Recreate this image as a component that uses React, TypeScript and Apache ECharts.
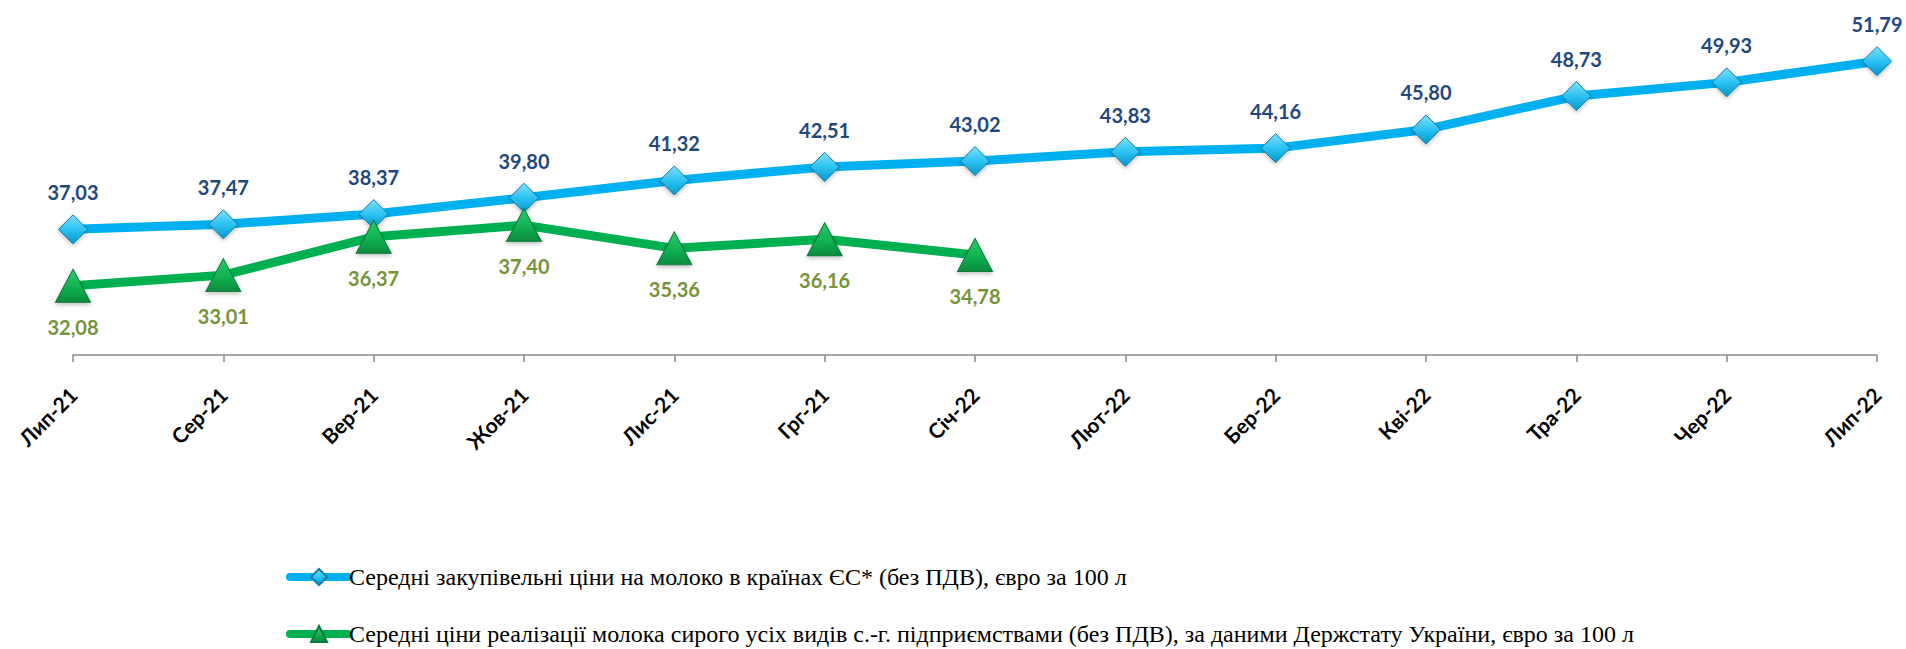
import React, { useEffect, useRef } from "react";
import * as echarts from "echarts";

const categories = ["Лип-21", "Сер-21", "Вер-21", "Жов-21", "Лис-21", "Грг-21", "Січ-22", "Лют-22", "Бер-22", "Кві-22", "Тра-22", "Чер-22", "Лип-22"];
const euPrices = [37.03, 37.47, 38.37, 39.8, 41.32, 42.51, 43.02, 43.83, 44.16, 45.8, 48.73, 49.93, 51.79];
const uaPrices = [32.08, 33.01, 36.37, 37.4, 35.36, 36.16, 34.78, null, null, null, null, null, null];
const euName = "Середні закупівельні ціни на молоко в країнах ЄС* (без ПДВ), євро за 100 л";
const uaName = "Середні ціни реалізації молока сирого усіх видів с.-г. підприємствами (без ПДВ), за даними Держстату України, євро за 100 л";

const fmt = (p: any) => (typeof p.value === "number" ? p.value.toFixed(2).replace(".", ",") : "");

export default function App() {
  const ref = useRef<HTMLDivElement>(null);
  useEffect(() => {
    if (!ref.current) return;
    const chart = echarts.init(ref.current, null, { renderer: "svg" });
    const blueGrad = new echarts.graphic.LinearGradient(0, 0, 0, 1, [
      { offset: 0, color: "#7FE0FB" },
      { offset: 0.5, color: "#2CC3F2" },
      { offset: 1, color: "#0596CC" },
    ]);
    const greenGrad = new echarts.graphic.LinearGradient(0, 0, 0, 1, [
      { offset: 0, color: "#2CCB68" },
      { offset: 0.6, color: "#0FAE50" },
      { offset: 1, color: "#078A3C" },
    ]);
    const legendCommon = {
      orient: "vertical",
      left: 286,
      itemWidth: 58,
      itemHeight: 20,
      itemGap: 0,
      padding: 0,
      lineStyle: { width: 8, cap: "round" },
      textStyle: { fontFamily: "Liberation Serif", fontSize: 24, color: "#000000", padding: [0, 0, 0, -4] },
    };
    chart.setOption({
      animation: false,
      backgroundColor: "#ffffff",
      grid: { left: 73, right: 29, top: 36, bottom: 294 },
      xAxis: {
        type: "category",
        data: categories,
        boundaryGap: false,
        axisLine: { show: true, lineStyle: { color: "#898989", width: 1.5 } },
        axisTick: { show: true, alignWithLabel: true, length: 7, lineStyle: { color: "#898989", width: 1.5 } },
        axisLabel: {
          rotate: 45,
          margin: 36,
          color: "#000000",
          fontFamily: "Lato",
          fontWeight: "bold",
          fontSize: 21,
          interval: 0,
        },
        splitLine: { show: false },
      },
      yAxis: { type: "value", min: 26, max: 54, show: false },
      legend: [
        { ...legendCommon, data: [euName], top: 565 },
        { ...legendCommon, data: [uaName], top: 622 },
      ],
      series: [
        {
          name: euName,
          type: "line",
          data: euPrices,
          symbol: "diamond",
          symbolSize: [29, 29],
          lineStyle: { color: "#00B0F0", width: 9 },
          itemStyle: { color: blueGrad, borderColor: "#137CA8", borderWidth: 1, shadowBlur: 4, shadowColor: "rgba(0,0,0,0.25)", shadowOffsetY: 2 },
          label: {
            show: true,
            position: "inside",
            offset: [0, -37],
            formatter: fmt,
            color: "#1F497D",
            fontFamily: "Lato",
            fontWeight: "bold",
            fontSize: 20,
          },
          z: 2,
        },
        {
          name: uaName,
          type: "line",
          data: uaPrices,
          symbol: "triangle",
          symbolSize: [35, 33],
          connectNulls: false,
          lineStyle: { color: "#00B050", width: 9 },
          itemStyle: { color: greenGrad, borderColor: "#0A7A3A", borderWidth: 1, shadowBlur: 4, shadowColor: "rgba(0,0,0,0.25)", shadowOffsetY: 2 },
          label: {
            show: true,
            position: "inside",
            offset: [0, 41],
            formatter: fmt,
            color: "#77933C",
            fontFamily: "Lato",
            fontWeight: "bold",
            fontSize: 20,
          },
          z: 3,
        },
      ],
    });
    return () => chart.dispose();
  }, []);
  return <div ref={ref} style={{ position: "absolute", left: 0, top: 0, width: 1906, height: 649 }} />;
}
